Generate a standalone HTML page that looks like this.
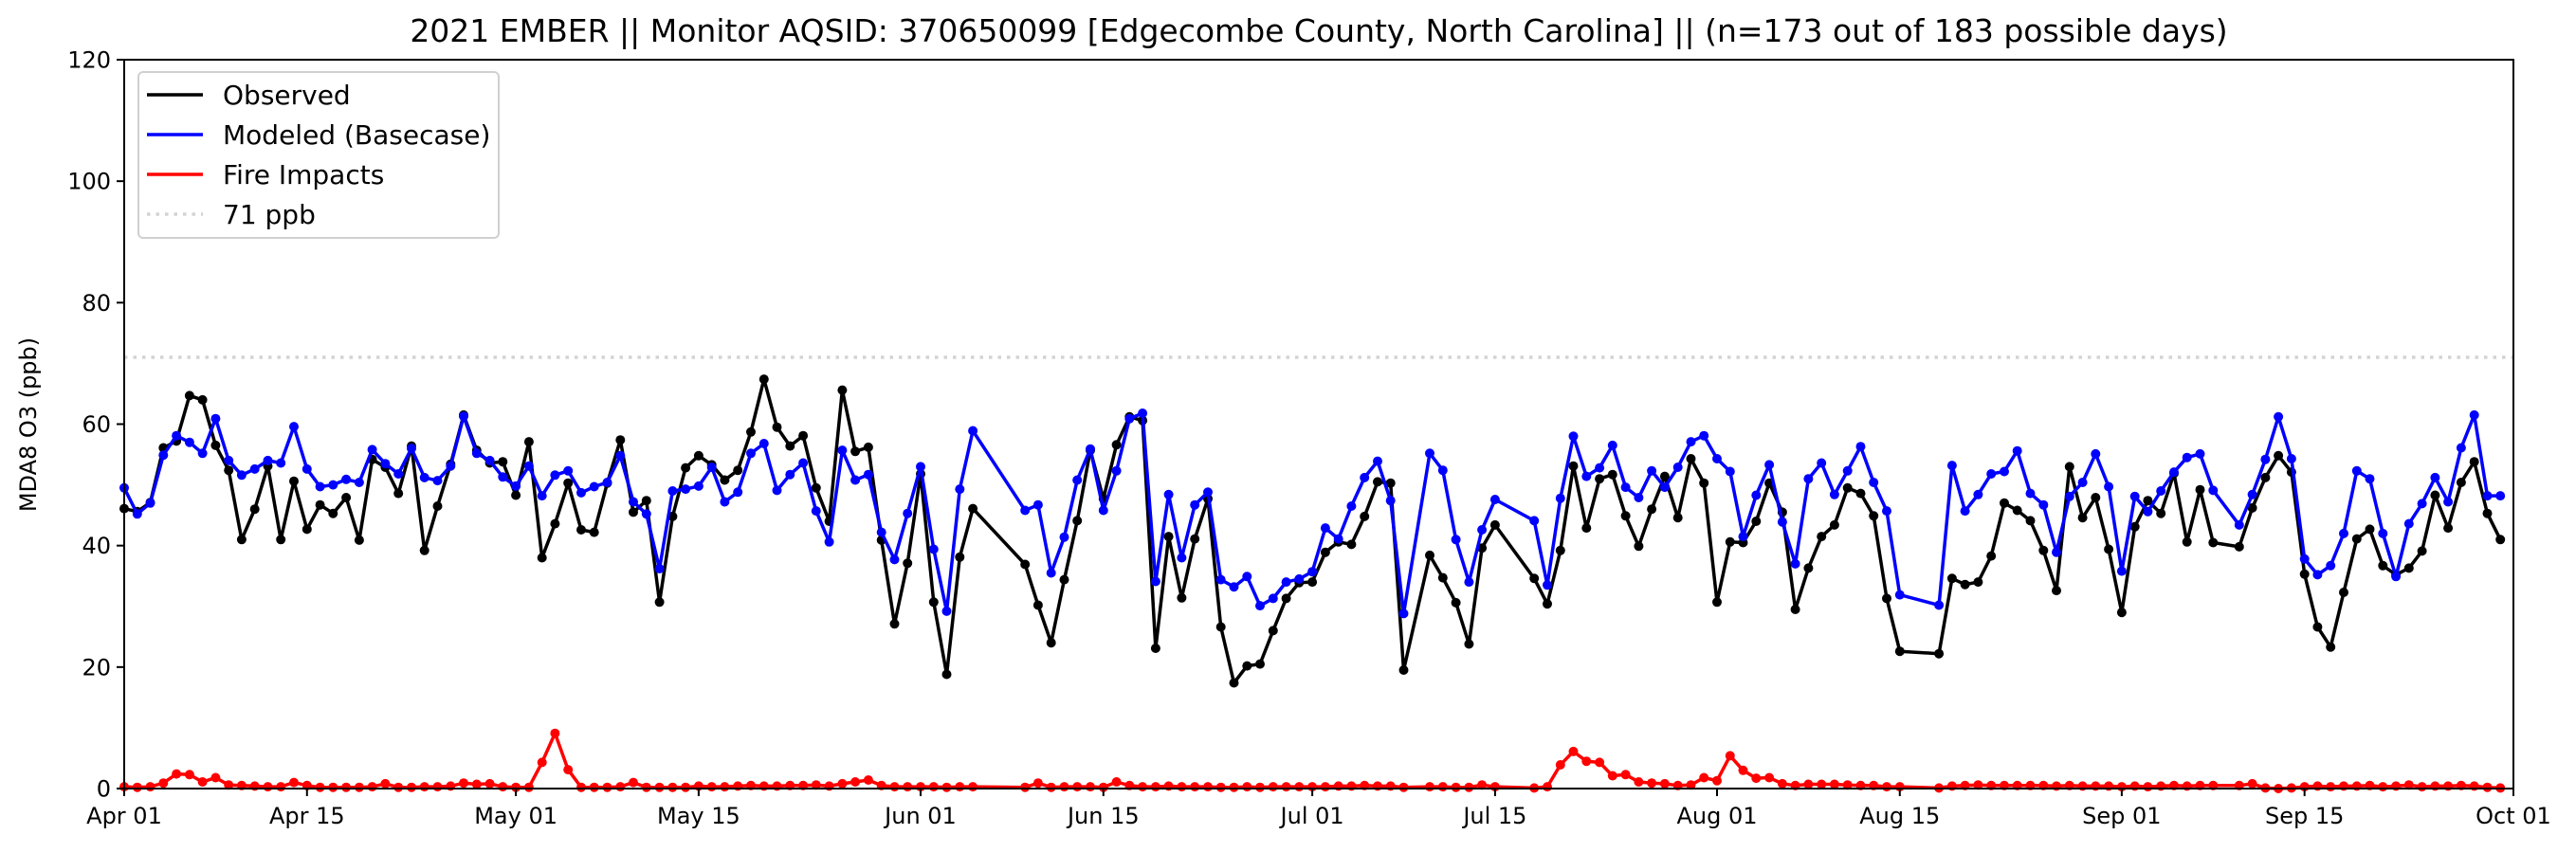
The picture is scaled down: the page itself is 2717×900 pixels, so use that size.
<!DOCTYPE html>
<html><head><meta charset="utf-8"><style>
html,body{margin:0;padding:0;background:#fff;}
svg{display:block;font-family:"DejaVu Sans","Liberation Sans",sans-serif;}
</style></head><body>
<svg id="chart" xmlns="http://www.w3.org/2000/svg" width="2717" height="900" viewBox="0 0 2717 900">
<rect x="0" y="0" width="2717" height="900" fill="#fff"/>
<text x="1391" y="44" font-size="33" text-anchor="middle">2021 EMBER || Monitor AQSID: 370650099 [Edgecombe County, North Carolina] || (n=173 out of 183 possible days)</text>
<text transform="translate(38,448) rotate(-90)" font-size="24" text-anchor="middle">MDA8 O3 (ppb)</text>
<g id="grid"></g>
<g id="series"></g>
<rect x="131" y="63" width="2520" height="769" fill="none" stroke="#000" stroke-width="2"/>
<g id="axes"></g>
<g>
<rect x="146" y="76" width="380" height="175" rx="5" fill="#fff" fill-opacity="0.8" stroke="#d0d0d0" stroke-width="2"/>
<g><line x1="155" y1="100" x2="214" y2="100" stroke="#000" stroke-width="3.5"/><text x="235" y="110" font-size="28">Observed</text></g>
<g><line x1="155" y1="142" x2="214" y2="142" stroke="#0000ff" stroke-width="3.5"/><text x="235" y="152" font-size="28">Modeled (Basecase)</text></g>
<g><line x1="155" y1="184" x2="214" y2="184" stroke="#ff0000" stroke-width="3.5"/><text x="235" y="194" font-size="28">Fire Impacts</text></g>
<g><line x1="155" y1="226" x2="214" y2="226" stroke="#d3d3d3" stroke-width="3.5" stroke-dasharray="3.5,6"/><text x="235" y="236" font-size="28">71 ppb</text></g>
</g>
</svg>
<script>
const observed = [46.1,45.6,47.1,56.1,57.2,64.7,64.0,56.5,52.4,41.0,
46.0,53.1,41.0,50.6,42.7,46.7,45.3,47.9,40.9,54.2,
52.9,48.6,56.4,39.2,46.5,53.4,61.5,55.7,53.6,53.8,
48.3,57.1,38.0,43.6,50.3,42.6,42.2,50.3,57.4,45.5,
47.4,30.7,44.8,52.8,54.8,53.3,50.8,52.4,58.7,67.4,
59.5,56.4,58.1,49.5,44.0,65.6,55.5,56.2,40.9,27.1,
37.1,51.8,30.7,18.8,38.1,46.1,null,null,null,36.9,
30.2,24.0,34.4,44.1,55.7,47.7,56.6,61.2,60.6,23.1,
41.5,31.4,41.1,47.7,26.6,17.4,20.2,20.5,26.0,31.3,
33.9,34.0,38.9,40.6,40.2,44.8,50.5,50.3,19.5,null,
38.4,34.7,30.6,23.8,39.6,43.4,null,null,34.6,30.4,
39.2,53.1,42.9,51.0,51.7,44.9,39.9,46.0,51.4,44.6,
54.3,50.3,30.7,40.6,40.5,44.0,50.3,45.5,29.5,36.3,
41.5,43.4,49.5,48.6,44.9,31.3,22.6,null,null,22.2,
34.6,33.6,34.0,38.3,47.0,45.8,44.1,39.2,32.6,53.0,
44.6,47.9,39.4,29.0,43.1,47.4,45.3,51.9,40.6,49.2,
40.5,null,39.8,46.2,51.2,54.8,52.1,35.3,26.6,23.3,
32.3,41.1,42.7,36.7,35.2,36.3,39.1,48.3,42.9,50.4,
53.8,45.3,41.0];
const modeled = [49.5,45.2,47.0,54.9,58.1,57.0,55.2,60.9,54.0,51.6,
52.6,54.0,53.6,59.6,52.6,49.7,50.0,50.9,50.4,55.8,
53.5,51.8,56.0,51.2,50.7,53.1,61.3,55.2,54.0,51.3,
49.8,53.1,48.2,51.6,52.3,48.7,49.7,50.4,54.8,47.2,
45.2,36.2,49.0,49.3,49.8,52.9,47.2,48.8,55.2,56.8,
49.1,51.7,53.6,45.7,40.6,55.7,50.8,51.7,42.2,37.7,
45.3,53.0,39.4,29.2,49.3,58.9,null,null,null,45.8,
46.7,35.5,41.4,50.8,55.9,45.8,52.3,60.9,61.8,34.1,
48.4,38.0,46.7,48.8,34.4,33.2,34.9,30.1,31.3,34.0,
34.5,35.7,42.9,41.1,46.5,51.2,53.9,47.4,28.8,null,
55.2,52.4,41.0,34.0,42.6,47.6,null,null,44.1,33.5,
47.8,58.0,51.4,52.8,56.5,49.6,47.9,52.3,49.6,52.9,
57.1,58.1,54.3,52.2,41.5,48.3,53.3,43.9,37.0,51.0,
53.6,48.4,52.3,56.3,50.4,45.7,31.9,null,null,30.2,
53.2,45.7,48.4,51.8,52.2,55.6,48.6,46.7,38.9,48.1,
50.4,55.1,49.7,35.8,48.1,45.6,49.0,52.1,54.5,55.1,
49.1,null,43.4,48.4,54.2,61.2,54.3,37.8,35.2,36.7,
42.0,52.3,51.0,42.0,34.9,43.6,46.9,51.2,47.2,56.1,
61.5,48.2,48.2];
const fire = [0.3,0.2,0.3,0.9,2.4,2.3,1.1,1.8,0.6,0.5,
0.4,0.3,0.3,1.0,0.5,0.2,0.2,0.2,0.2,0.3,
0.8,0.2,0.2,0.3,0.3,0.4,0.9,0.7,0.8,0.3,
0.2,0.2,4.3,9.1,3.1,0.2,0.2,0.2,0.3,1.0,
0.2,0.2,0.2,0.2,0.4,0.3,0.3,0.4,0.5,0.4,
0.4,0.5,0.5,0.6,0.4,0.8,1.1,1.4,0.5,0.3,
0.3,0.3,0.3,0.2,0.3,0.3,null,null,null,0.2,
0.9,0.2,0.3,0.3,0.3,0.2,1.1,0.5,0.3,0.3,
0.4,0.3,0.3,0.3,0.2,0.2,0.3,0.2,0.3,0.3,
0.3,0.3,0.3,0.4,0.4,0.5,0.4,0.4,0.2,null,
0.3,0.3,0.2,0.2,0.6,0.3,null,null,0.1,0.3,
3.9,6.1,4.5,4.3,2.1,2.3,1.1,0.9,0.8,0.5,
0.6,1.8,1.3,5.4,3.0,1.7,1.8,0.8,0.5,0.7,
0.7,0.7,0.6,0.5,0.5,0.3,0.3,null,null,0.1,
0.4,0.5,0.6,0.5,0.5,0.5,0.5,0.5,0.4,0.5,
0.4,0.4,0.4,0.3,0.4,0.3,0.4,0.5,0.4,0.5,
0.5,null,0.5,0.8,0.1,0.0,0.1,0.3,0.4,0.3,
0.4,0.4,0.5,0.3,0.4,0.6,0.3,0.4,0.4,0.5,
0.4,0.2,0.1];
const xTickDays = [0,14,30,44,61,75,91,105,122,136,153,167,183];
const xTickLabels = ["Apr 01","Apr 15","May 01","May 15","Jun 01","Jun 15","Jul 01","Jul 15","Aug 01","Aug 15","Sep 01","Sep 15","Oct 01"];
const yTicks = [0,20,40,60,80,100,120];
const threshold = [71];

const NS = "http://www.w3.org/2000/svg";
const L = 131, R = 2651, T = 63, B = 832, DAYS = 183, YMAX = 120;
function xs(d){ return L + (R - L) * d / DAYS; }
function ys(v){ return B - (B - T) * v / YMAX; }
function mk(tag, attrs, parent){ const e = document.createElementNS(NS, tag); for (const k in attrs) e.setAttribute(k, attrs[k]); parent.appendChild(e); return e; }

const axes = document.getElementById('axes');
const grid = document.getElementById('grid');
const series = document.getElementById('series');

threshold.forEach(v => {
  const ln = mk('line', {x1:L, x2:R, y1:ys(v), y2:ys(v), stroke:'#d3d3d3', 'stroke-width':3.5, 'stroke-dasharray':'3.5,6'}, grid);
  
  
});

yTicks.forEach(v => {
  const t = mk('line', {x1:L-8, x2:L, y1:ys(v), y2:ys(v), stroke:'#000', 'stroke-width':2}, axes);
  
  
  const tx = mk('text', {x:L-14, y:ys(v)+8.5, 'font-size':24, 'text-anchor':'end'}, axes);
  tx.textContent = v;
  
  
});
xTickDays.forEach((d, i) => {
  const t = mk('line', {x1:xs(d), x2:xs(d), y1:B, y2:B+8, stroke:'#000', 'stroke-width':2}, axes);
  
  
  const tx = mk('text', {x:xs(d), y:B+37, 'font-size':24, 'text-anchor':'middle'}, axes);
  tx.textContent = xTickLabels[i];
  
  
});

function drawSeries(vals, color, name){
  const g = mk('g', {}, series);
  
  
  const pts = [];
  vals.forEach((v, d) => { if (v !== null) pts.push([xs(d), ys(v)]); });
  const pl = mk('polyline', {points: pts.map(p => p[0].toFixed(1) + ',' + p[1].toFixed(1)).join(' '), fill:'none', stroke:color, 'stroke-width':3.5, 'stroke-linejoin':'round'}, g);
  
  
  pts.forEach(p => {
    const c = mk('circle', {cx:p[0].toFixed(1), cy:p[1].toFixed(1), r:5, fill:color}, g);
    
    
  });
}
drawSeries(observed, '#000000', 'observed');
drawSeries(modeled, '#0000ff', 'modeled');
drawSeries(fire, '#ff0000', 'fire-impacts');
</script>
</body></html>
